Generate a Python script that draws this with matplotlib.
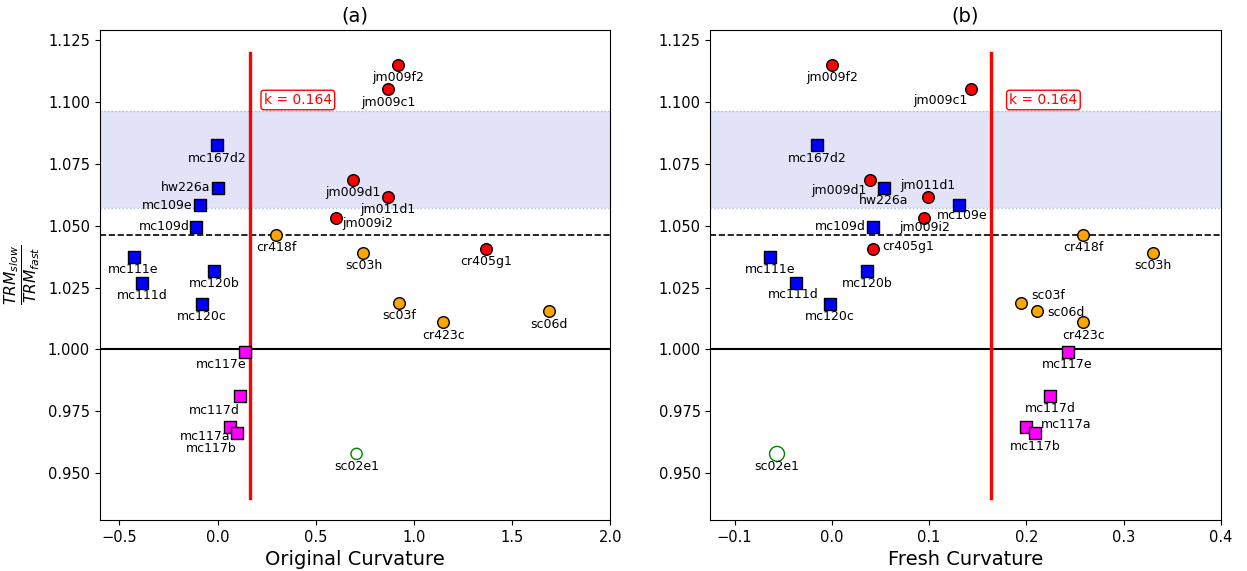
import matplotlib
matplotlib.use("Agg")
import matplotlib.pyplot as plt

# ---------------- data ----------------
names = ["jm009f2", "jm009c1", "jm009d1", "jm011d1", "jm009i2", "cr405g1",
         "cr418f", "sc03h", "sc03f", "cr423c", "sc06d",
         "mc167d2", "hw226a", "mc109e", "mc109d", "mc111e", "mc111d", "mc120b", "mc120c",
         "mc117e", "mc117d", "mc117a", "mc117b",
         "sc02e1"]
groups = ["red"] * 6 + ["orange"] * 5 + ["blue"] * 8 + ["magenta"] * 4 + ["open"]
trm_ratio = [1.115, 1.1052, 1.0686, 1.0617, 1.0531, 1.0406,
             1.0464, 1.039, 1.0188, 1.011, 1.0155,
             1.0826, 1.0654, 1.0582, 1.0496, 1.0375, 1.027, 1.0318, 1.0184,
             0.999, 0.9812, 0.9688, 0.9661,
             0.9578]
orig_curv = [0.919, 0.869, 0.691, 0.870, 0.604, 1.368,
             0.299, 0.743, 0.926, 1.149, 1.687,
             -0.003, 0.0, -0.090, -0.110, -0.428, -0.383, -0.019, -0.079,
             0.142, 0.112, 0.064, 0.098,
             0.708]
fresh_curv = [0.0, 0.1436, 0.039, 0.099, 0.095, 0.042,
              0.2585, 0.330, 0.195, 0.2585, 0.211,
              -0.0153, 0.0537, 0.131, 0.0425, -0.064, -0.0366, 0.036, -0.002,
              0.2425, 0.2247, 0.1997, 0.2094,
              -0.0564]
k_value = 0.164
band_low, band_high = 1.0572, 1.0965
dashed_level = 1.0463
titles = ["(a)", "(b)"]
xlabels = ["Original Curvature", "Fresh Curvature"]

# ---------------- styles ----------------
style = {
    "red": dict(marker="o", c="red", edgecolors="black", s=70, linewidths=1, zorder=5),
    "orange": dict(marker="o", c="orange", edgecolors="black", s=70, linewidths=1, zorder=5),
    "blue": dict(marker="s", c="blue", edgecolors="black", s=72, linewidths=1, zorder=5),
    "magenta": dict(marker="s", c="magenta", edgecolors="black", s=72, linewidths=1, zorder=5),
}

# label offsets (pixels): default below the point
default_off = (0, -13, "center")
offs_left = {
    "hw226a": (-7, 0, "right"), "mc109e": (-7, 0, "right"), "mc109d": (-6, 0, "right"),
    "jm009i2": (6, -5, "left"),
    "mc117e": (1, -13, "right"), "mc117d": (0, -15, "right"),
    "mc117a": (0, -10, "right"), "mc117b": (0, -15, "right"),
}
offs_right = {
    "jm009c1": (-4, -11, "right"), "jm009d1": (-3, -11, "right"),
    "jm011d1": (0, 11, "center"), "mc109e": (3, -10, "center"),
    "jm009i2": (0, -9, "center"), "mc109d": (-7, 0, "right"),
    "cr405g1": (10, 2, "left"), "sc03f": (10, 7, "left"), "sc06d": (10, -1, "left"),
    "mc117a": (15, 2, "left"), "mc111d": (-3, -12, "center"),
}

fig, axes = plt.subplots(1, 2, figsize=(12.47, 5.71), dpi=100)
fig.subplots_adjust(left=0.080, right=0.979, bottom=0.089, top=0.947, wspace=0.196)

panels = [(axes[0], orig_curv, offs_left, (-0.6, 2.0), [-0.5, 0.0, 0.5, 1.0, 1.5, 2.0], 65, (14, 2)),
          (axes[1], fresh_curv, offs_right, (-0.125, 0.4), [-0.1, 0.0, 0.1, 0.2, 0.3, 0.4], 115, (18, 2))]

for i, (ax, xs, offs, xlim, xticks, open_s, koff) in enumerate(panels):
    ax.axhspan(band_low, band_high, color="#e3e3f7", zorder=0, lw=0)
    ax.axhline(band_low, color="#a8bce6", ls=":", lw=1, zorder=1)
    ax.axhline(band_high, color="#a8bce6", ls=":", lw=1, zorder=1)
    ax.axhline(1.0, color="black", lw=1.5, zorder=2)
    ax.axhline(dashed_level, color="black", ls="--", lw=1.2, zorder=2)
    ax.plot([k_value, k_value], [0.94, 1.12], color="red", lw=2.4, zorder=3)
    ax.annotate(f"k = {k_value}", xy=(k_value, 1.1), xytext=koff, textcoords="offset pixels",
                color="red", fontsize=10, ha="left", va="center",
                bbox=dict(boxstyle="round,pad=0.2", fc="white", ec="red", lw=1), zorder=6)

    for g in ["red", "orange", "blue", "magenta"]:
        gx = [x for x, gg in zip(xs, groups) if gg == g]
        gy = [y for y, gg in zip(trm_ratio, groups) if gg == g]
        ax.scatter(gx, gy, **style[g])
    ox = [x for x, gg in zip(xs, groups) if gg == "open"]
    oy = [y for y, gg in zip(trm_ratio, groups) if gg == "open"]
    ax.scatter(ox, oy, marker="o", facecolors="none", edgecolors="green", s=open_s, linewidths=1, zorder=5)

    for n, x, y in zip(names, xs, trm_ratio):
        dx, dy, ha = offs.get(n, default_off)
        ax.annotate(n, xy=(x, y), xytext=(dx, dy), textcoords="offset pixels",
                    ha=ha, va="center", fontsize=9, zorder=7)

    ax.set_xlim(*xlim)
    ax.set_ylim(0.931, 1.129)
    ax.set_xticks(xticks)
    ax.set_yticks([0.95, 0.975, 1.0, 1.025, 1.05, 1.075, 1.1, 1.125])
    ax.set_yticklabels([f"{v:.3f}" for v in [0.95, 0.975, 1.0, 1.025, 1.05, 1.075, 1.1, 1.125]])
    ax.tick_params(labelsize=10.5)
    ax.set_xlabel(xlabels[i], fontsize=14)
    ax.set_title(titles[i], fontsize=14)

axes[0].set_ylabel(r"$\frac{TRM_{slow}}{TRM_{fast}}$", fontsize=16)

fig.savefig("out.png", dpi=100)
